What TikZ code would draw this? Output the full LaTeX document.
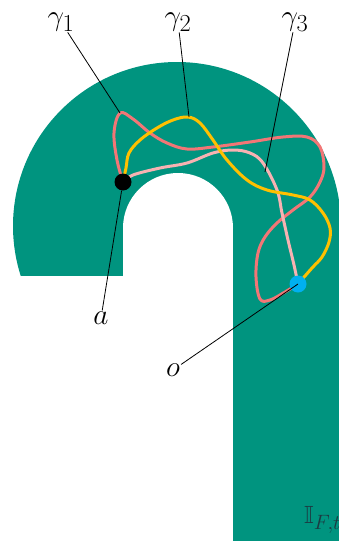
\documentclass[tikz,border=0pt]{standalone}
\usepackage{amsmath,amssymb,graphicx}
\usepackage{tikz}
\definecolor{archgreen}{RGB}{0,148,127}
\definecolor{gone}{RGB}{242,118,118}
\definecolor{gtwo}{RGB}{255,192,0}
\definecolor{gthree}{RGB}{247,178,178}
\definecolor{ocol}{RGB}{0,176,240}
\definecolor{labdark}{RGB}{28,58,66}
\newcommand{\lblmath}[1]{\scalebox{1.18}{$#1$}}
\tikzset{
  curve/.style={line width=3pt, line cap=round, line join=round},
  lbl/.style={font=\Huge, inner sep=1pt},
  lead/.style={line width=0.8pt},
  spot/.style={circle, inner sep=0pt, minimum size=17pt}
}

\begin{document}
\begin{tikzpicture}[x=1pt,y=-1pt]
    \useasboundingbox (0,0) rectangle (339,541);
    % the arch
    \begin{scope}
        \clip (0,0) rectangle (339,275);
        \fill[archgreen] (177,226) circle (164pt);
    \end{scope}
    \fill[archgreen] (233,226) rectangle (339,541);
    \fill[white] (178,228) circle (55pt);
    \fill[white] (123,228) rectangle (233,541);

    % the three paths from a to o
    \draw[curve,color=gone] plot[smooth,tension=0.6] coordinates {(123,182) (117,160) (114,133) (120,113) (133,119) (150,133) (167,143) (187,149) (213,147) (250,142) (283,137) (307,137) (320,147) (324,167) (320,182) (310,197) (293,210) (277,223) (265,237) (258,253) (256,277) (260,299) (270,300) (285,292) (298,284)};
    \draw[curve,color=gthree] plot[smooth,tension=0.6] coordinates {(123,182) (133,175) (160,168) (187,163) (213,153) (233,150) (250,153) (263,163) (277,190) (282,213) (288,240) (294,265) (298,284)};
    \draw[curve,color=gtwo] plot[smooth,tension=0.6] coordinates {(123,182) (126,168) (129,153) (140,140) (157,128) (173,120) (188,117) (200,123) (213,140) (227,160) (247,180) (267,190) (293,195) (310,200) (323,213) (330,228) (329,242) (322,257) (312,268) (298,284)};

    % end points
    \node[spot,fill=black] (pa) at (123,182) {};
    \node[spot,fill=ocol] (po) at (298,284) {};

    % labels
    \node[lbl] (g1) at (61,22) {\lblmath{\gamma_1}};
    \node[lbl] (g2) at (178,22) {\lblmath{\gamma_2}};
    \node[lbl] (g3) at (295,22) {\lblmath{\gamma_3}};
    \node[lbl] (la) at (101,318) {\lblmath{a}};
    \node[lbl] (lo) at (173,370) {\lblmath{o}};
    \node[lbl,anchor=west,text=labdark] (lif) at (303,520) {$\mathbb{I}_{F,t}$};

    \coordinate (g1tip) at (120,113);
    \coordinate (g2tip) at (189,117);
    \coordinate (g3tip) at (265,172);
    \draw[lead] (g1) -- (g1tip);
    \draw[lead] (g2) -- (g2tip);
    \draw[lead] (g3) -- (g3tip);
    \draw[lead] (la) -- (pa);
    \draw[lead] (lo) -- (po.center);
\end{tikzpicture}
\end{document}
